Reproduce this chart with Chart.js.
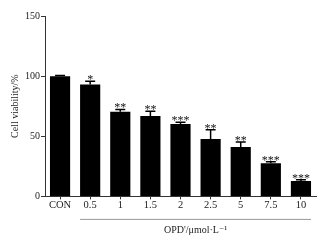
<!DOCTYPE html>
<html>
<head>
<meta charset="utf-8">
<script src="https://cdn.jsdelivr.net/npm/chart.js@4"></script>
<style>
  html, body { margin: 0; padding: 0; background: #fff; }
  #wrap { width: 329px; height: 241px; }
</style>
</head>
<body>
<div id="wrap"><canvas id="viability"></canvas></div>
<script>
// concentrations of OPD' (first one is the control)
const doses = ["CON", "0.5", "1", "1.5", "2", "2.5", "5", "7.5", "10"];
// mean cell viability, %
const viability = [100, 93, 70.3, 66.8, 60.2, 47.8, 41, 27.5, 12.9];
// error bar (SD) above the mean
const spread = [0.6, 2.8, 2, 4, 1.4, 7.7, 4.3, 1.4, 0.9];
// significance marks
const marks = ["", "*", "**", "**", "***", "**", "**", "***", "***"];
const yTicks = [0, 50, 100, 150];
const xTitle = "OPD'/μmol·L⁻¹";

const serif = "'Liberation Serif', 'DejaVu Serif', serif";

// error bars, stars, bracket and the x title (centred under the treated groups)
const errorBars = {
  id: 'errorBars',
  afterDatasetsDraw(chart) {
    const ctx = chart.ctx;
    const y = chart.scales.y;
    const bars = chart.getDatasetMeta(0).data;
    ctx.save();
    ctx.strokeStyle = '#000';
    ctx.lineWidth = 1.5;
    bars.forEach((bar, i) => {
      const top = y.getPixelForValue(viability[i] + spread[i]);
      ctx.beginPath();
      ctx.moveTo(bar.x, bar.y);
      ctx.lineTo(bar.x, top);
      ctx.moveTo(bar.x - 5, top);
      ctx.lineTo(bar.x + 5, top);
      ctx.stroke();
      if (marks[i]) {
        ctx.fillStyle = '#111';
        ctx.font = '12px ' + serif;
        ctx.textAlign = 'center';
        ctx.textBaseline = 'alphabetic';
        ctx.fillText(marks[i], bar.x, top + 2);
      }
    });
    const first = bars[1], last = bars[bars.length - 1];
    const x0 = first.x - first.width / 2, x1 = last.x + last.width / 2;
    const yy = chart.chartArea.bottom + 23;
    ctx.strokeStyle = '#999';
    ctx.lineWidth = 1;
    ctx.beginPath();
    ctx.moveTo(x0, yy);
    ctx.lineTo(x1, yy);
    ctx.stroke();
    ctx.fillStyle = '#222';
    ctx.font = '10px ' + serif;
    ctx.textAlign = 'center';
    ctx.textBaseline = 'middle';
    ctx.fillText(xTitle, (x0 + x1) / 2, yy + 11);
    ctx.restore();
  }
};

new Chart(document.getElementById('viability'), {
  type: 'bar',
  data: {
    labels: doses,
    datasets: [{
      label: 'Cell viability',
      data: viability,
      backgroundColor: '#000',
      borderWidth: 0,
      barPercentage: 0.67,
      categoryPercentage: 1
    }]
  },
  options: {
    responsive: true,
    maintainAspectRatio: false,
    animation: false,
    layout: { padding: { left: 6, right: 13, top: 16, bottom: 29 } },
    plugins: {
      legend: { display: false },
      tooltip: { enabled: false }
    },
    scales: {
      x: {
        grid: { drawOnChartArea: false, offset: false, tickLength: 3, color: '#333' },
        border: { color: '#333', width: 1 },
        ticks: { color: '#222', padding: 0, font: { family: serif, size: 10.5 } }
      },
      y: {
        min: 0,
        max: 150,
        afterBuildTicks: axis => { axis.ticks = yTicks.map(v => ({ value: v })); },
        grid: { drawOnChartArea: false, tickLength: 4, color: '#333' },
        border: { color: '#333', width: 1 },
        ticks: { color: '#222', padding: 1, font: { family: serif, size: 10 } },
        title: {
          display: true,
          text: 'Cell viability/%',
          color: '#222',
          font: { family: serif, size: 10 },
          padding: { top: 3, bottom: 3 }
        }
      }
    }
  },
  plugins: [errorBars]
});
</script>
</body>
</html>
